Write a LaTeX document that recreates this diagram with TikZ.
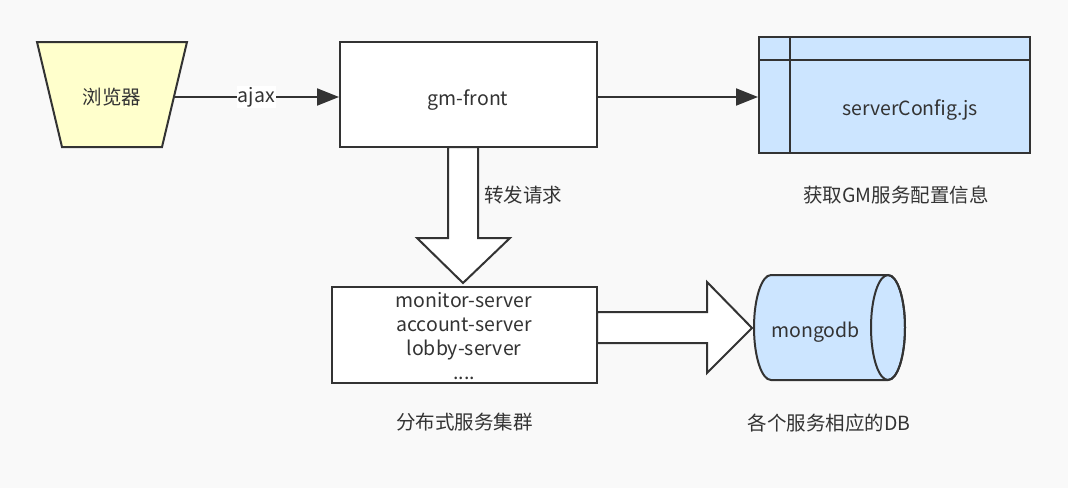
\documentclass[tikz,border=0pt]{standalone}
\usepackage{fontspec}
\setmainfont{Noto Sans CJK SC}
\usetikzlibrary{arrows.meta}
\definecolor{bg}{HTML}{F9F9F9}
\definecolor{ln}{HTML}{333333}
\definecolor{yel}{HTML}{FFFFCC}
\definecolor{blu}{HTML}{CCE5FF}
\tikzset{
  shp/.style={draw=ln, line width=2pt, line join=miter},
  txt/.style={text=ln, font=\fontsize{19.5}{24}\selectfont, inner sep=0pt, align=center},
  conn/.style={draw=ln, line width=2pt, -{Triangle[length=22pt,width=17pt]}},
}
\begin{document}
\begin{tikzpicture}[x=1pt,y=-1pt]
\fill[bg] (0,0) rectangle (1068,488);
\useasboundingbox (0,0) rectangle (1068,488);
% browser trapezoid
\draw[shp, fill=yel] (37,42) -- (187,42) -- (162,147) -- (62,147) -- cycle;
\node[txt] (browser) at (112,97) {浏览器};
\coordinate (bout) at (174,97);
% gm-front
\node[shp, fill=white, minimum width=257pt, minimum height=105pt, inner sep=0pt] (gm) at (468.5,94.5) {};
\node[txt] (gmtxt) at (468,100) {gm-front};
% serverConfig
\node[shp, fill=blu, minimum width=271pt, minimum height=116pt, inner sep=0pt] (cfg) at (894.5,95) {};
\draw[shp] (790,37) -- (790,153);
\draw[shp] (759,60) -- (1030,60);
\node[txt] (cfgtxt) at (910,110) {serverConfig.js};
\node[txt] (cfglbl) at (896,195) {获取GM服务配置信息};
% connectors
\draw[conn] (bout) -- (gm.west |- bout) node[pos=0.5, fill=white, txt, inner sep=1pt] (ajax) {ajax};
\draw[conn] (gm.east |- bout) -- (cfg.west |- bout);
% servers box
\node[shp, fill=white, minimum width=265pt, minimum height=96pt, inner sep=0pt] (srv) at (464.5,335) {};
\node[txt, anchor=base] (s1) at (464,307) {monitor-server};
\node[txt, anchor=base] (s2) at (464,331) {account-server};
\node[txt, anchor=base] (s3) at (464,355) {lobby-server};
\node[txt, anchor=base] (s4) at (464,379) {....};
\node[txt] (srvlbl) at (464.5,422) {分布式服务集群};
% down block arrow
\draw[shp, fill=white] (448,147) -- (478,147) -- (478,238) -- (510,238) -- (463,283) -- (417,238) -- (448,238) -- cycle;
\node[txt] (fwd) at (523,195) {转发请求};
% right block arrow
\draw[shp, fill=white] (597,312) -- (707,312) -- (707,282) -- (752,328) -- (707,373) -- (707,343) -- (597,343) -- cycle;
% cylinder
\draw[shp, fill=blu] (771,275) arc[start angle=270, end angle=90, x radius=17, y radius=52.5]
  -- (888,380) arc[start angle=90, end angle=-90, x radius=17, y radius=52.5] -- cycle;
\draw[shp] (888,327.5) ellipse[x radius=17, y radius=52.5];
\node[txt] (db) at (815.5,332) {mongodb};
\node[txt] (dblbl) at (829,423) {各个服务相应的DB};
\end{tikzpicture}
\end{document}
